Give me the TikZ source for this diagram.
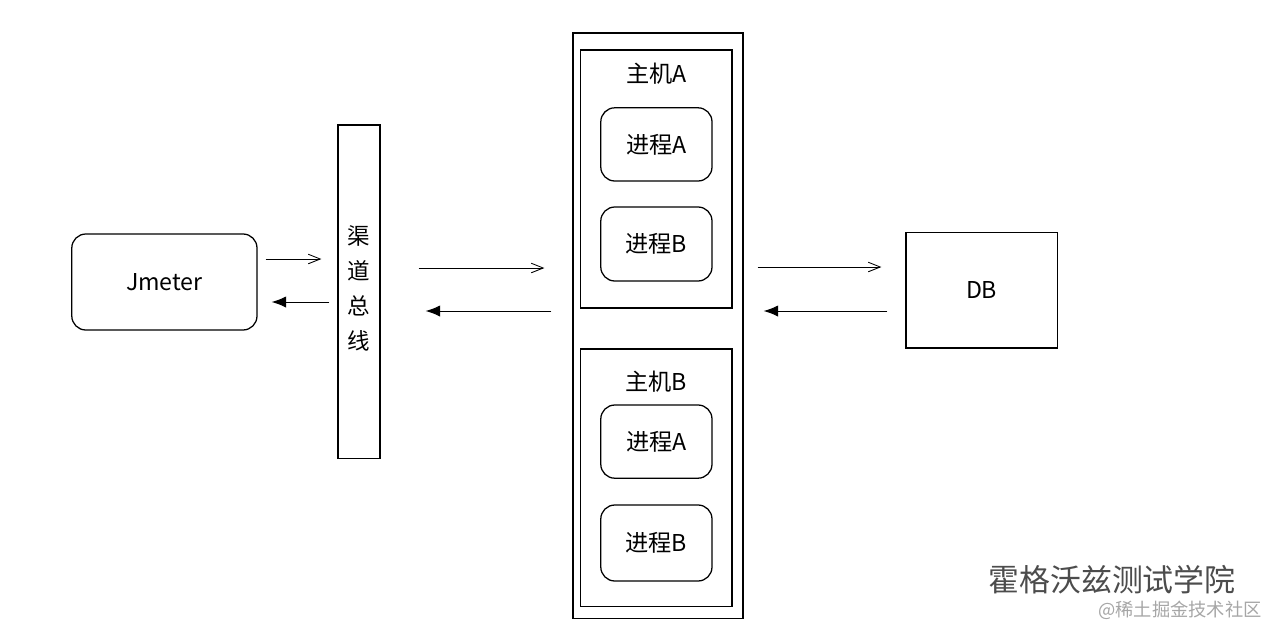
\documentclass[tikz,border=0pt]{standalone}
\usepackage{fontspec}
\setmainfont{Noto Sans CJK SC}
\usetikzlibrary{arrows.meta}

\tikzset{
  box/.style={draw, line width=0.9pt, inner sep=0pt},
  roundbox/.style={box, rounded corners=0.35cm},
  lbl/.style={font=\fontsize{16.5}{19}\selectfont},
  fwd/.style={draw, line width=0.6pt, -{Straight Barb[length=3mm,width=2.4mm]}},
  bwd/.style={draw, line width=0.7pt, -{Latex[length=3.6mm,width=2.8mm]}}
}

\begin{document}
\begin{tikzpicture}
    \useasboundingbox (0,0) rectangle (32,-15.95);

    \node[roundbox, lbl, minimum width=4.63cm, minimum height=2.4cm] (jm) at (4.11,-7.05) {Jmeter};
    \node[box, minimum width=1.05cm, minimum height=8.33cm] (bus) at (8.975,-7.29) {};
    \node[font=\fontsize{16}{24.8}\selectfont, align=center] (buslbl) at (8.975,-7.21) {渠\\道\\总\\线};

    % hosts column
    \node[box, minimum width=4.25cm, minimum height=14.63cm] (col) at (16.45,-8.14) {};
    \node[box, minimum width=3.78cm, minimum height=6.45cm] (hostA) at (16.41,-4.475) {};
    \node[lbl] (hostAlbl) at ([yshift=-0.6cm]hostA.north) {主机A};
    \node[roundbox, lbl, minimum width=2.78cm, minimum height=1.83cm] (procAA) at (16.41,-3.61) {进程A};
    \node[roundbox, lbl, minimum width=2.78cm, minimum height=1.85cm] (procAB) at (16.41,-6.1) {进程B};

    \node[box, minimum width=3.78cm, minimum height=6.43cm] (hostB) at (16.41,-11.94) {};
    \node[lbl] (hostBlbl) at ([yshift=-0.825cm]hostB.north) {主机B};
    \node[roundbox, lbl, minimum width=2.78cm, minimum height=1.83cm] (procBA) at (16.41,-11.04) {进程A};
    \node[roundbox, lbl, minimum width=2.78cm, minimum height=1.9cm] (procBB) at (16.41,-13.575) {进程B};

    \node[box, lbl, minimum width=3.78cm, minimum height=2.88cm] (db) at (24.54,-7.26) {DB};

    % arrows
    \draw[fwd, shorten <=0.2cm, shorten >=0.4cm] (jm.east |- 0,-6.475) -- (bus.west |- 0,-6.475);
    \draw[bwd, shorten <=0.2cm, shorten >=0.35cm] (bus.west |- 0,-7.55) -- (jm.east |- 0,-7.55);
    \draw[fwd, shorten <=0.95cm, shorten >=0.7cm] (bus.east |- 0,-6.7) -- (col.west |- 0,-6.7);
    \draw[bwd, shorten <=0.525cm, shorten >=1.125cm] (col.west |- 0,-7.775) -- (bus.east |- 0,-7.775);
    \draw[fwd, shorten <=0.35cm, shorten >=0.6cm] (col.east |- 0,-6.675) -- (db.west |- 0,-6.675);
    \draw[bwd, shorten <=0.45cm, shorten >=0.5cm] (db.west |- 0,-7.775) -- (col.east |- 0,-7.775);

    % watermark
    \node[font=\fontsize{22}{26}\selectfont, text=black!70] (wm) at (27.8,-14.5) {霍格沃兹测试学院};
    \node[font=\fontsize{13}{15}\selectfont, text=black!35] (wmsub) at (29.5,-15.25) {@稀土掘金技术社区};
\end{tikzpicture}
\end{document}
